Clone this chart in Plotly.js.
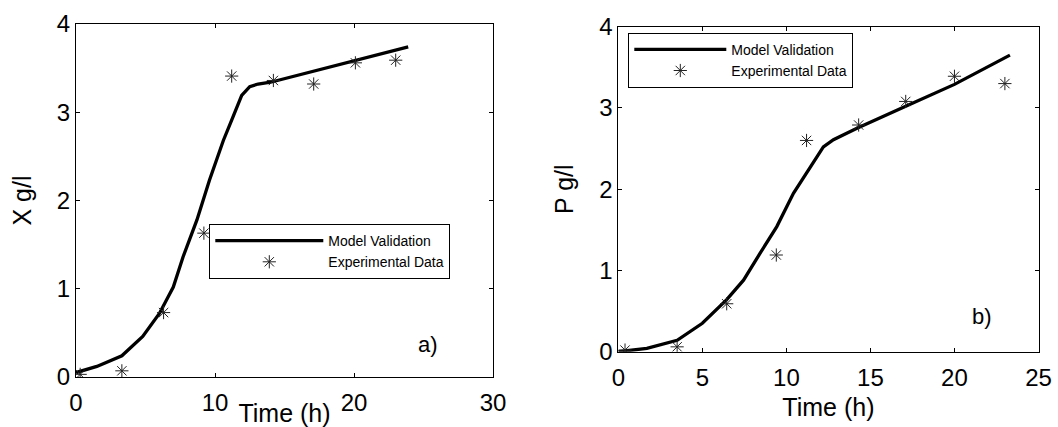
<!DOCTYPE html>
<html><head><meta charset="utf-8">
<script src="https://cdn.plot.ly/plotly-3.0.1.min.js"></script>
<style>html,body{margin:0;padding:0;background:#fff}</style>
</head><body><div id="chart" style="width:1058px;height:427px"></div>
<script>
// Panel a) biomass X (g/l)
const modelTimeX = [0, 1.5, 3.3, 4.8, 6.0, 7.0, 7.7, 8.7, 9.6, 10.6, 11.2, 11.56, 11.92, 12.5, 13.1, 14.0, 16.0, 18.0, 20.0, 22.0, 23.9];
const modelX     = [0.05, 0.12, 0.24, 0.46, 0.72, 1.02, 1.36, 1.78, 2.23, 2.68, 2.91, 3.06, 3.19, 3.29, 3.32, 3.34, 3.42, 3.50, 3.58, 3.66, 3.74];
const expTimeX   = [0.3, 3.3, 6.3, 9.2, 11.2, 14.2, 17.1, 20.1, 23.0];
const expX       = [0.03, 0.07, 0.73, 1.63, 3.41, 3.36, 3.32, 3.56, 3.59];

// Panel b) product P (g/l)
const modelTimeP = [0, 1.7, 3.5, 5.0, 6.45, 7.45, 8.43, 9.43, 10.42, 11.21, 11.81, 12.2, 12.8, 14.2, 17.1, 20.0, 23.3];
const modelP     = [0, 0.04, 0.14, 0.35, 0.64, 0.88, 1.21, 1.54, 1.95, 2.20, 2.40, 2.52, 2.61, 2.75, 3.02, 3.29, 3.65];
const expTimeP   = [0.4, 3.5, 6.45, 9.4, 11.2, 14.3, 17.1, 20.0, 23.0];
const expP       = [0.02, 0.06, 0.59, 1.19, 2.60, 2.79, 3.08, 3.39, 3.30];

const seriesNames = ["Model Validation", "Experimental Data"];
const ticksXa = [0, 10, 20, 30];
const ticksXb = [0, 5, 10, 15, 20, 25];
const ticksY  = [0, 1, 2, 3, 4];

const W = 1058, H = 427;
const FONT = "Liberation Sans, Arial, sans-serif";
const lineStyle = {color: "#000", width: 3.3};
const markerStyle = {symbol: "asterisk-open", size: 11, color: "#222", line: {color: "#222", width: 1}};

const traces = [
  {x: modelTimeX, y: modelX, mode: "lines", name: seriesNames[0], line: lineStyle, xaxis: "x", yaxis: "y", legend: "legend"},
  {x: expTimeX, y: expX, mode: "markers", name: seriesNames[1], marker: markerStyle, xaxis: "x", yaxis: "y", legend: "legend"},
  {x: modelTimeP, y: modelP, mode: "lines", name: seriesNames[0], line: lineStyle, xaxis: "x2", yaxis: "y2", legend: "legend2"},
  {x: expTimeP, y: expP, mode: "markers", name: seriesNames[1], marker: markerStyle, xaxis: "x2", yaxis: "y2", legend: "legend2"}
];

function ax(extra) {
  return Object.assign({
    showline: true, linecolor: "#000", linewidth: 1, mirror: "allticks",
    ticks: "inside", ticklen: 4, tickcolor: "#000", tickwidth: 1,
    showgrid: false, zeroline: false, automargin: false,
    tickfont: {family: FONT, size: 24, color: "#000"}
  }, extra);
}

const legendBase = {
  bgcolor: "#fff", bordercolor: "#000", borderwidth: 1,
  font: {family: FONT, size: 14, color: "#000"},
  xanchor: "left", yanchor: "top", tracegroupgap: 0
};

const layout = {
  width: W, height: H,
  margin: {l: 0, r: 0, t: 0, b: 0},
  paper_bgcolor: "#fff", plot_bgcolor: "#fff",
  showlegend: true,
  xaxis: ax({domain: [76 / W, 493 / W], range: [0, 30], tickvals: ticksXa, anchor: "y", ticklabelstandoff: 4,
    title: {text: "Time (h)", font: {family: FONT, size: 25, color: "#000"}, standoff: 3}}),
  yaxis: ax({domain: [1 - 377 / H, 1 - 24 / H], range: [0, 4], tickvals: ticksY, anchor: "x",
    title: {text: "X g/l", font: {family: FONT, size: 25, color: "#000"}, standoff: 18}}),
  xaxis2: ax({domain: [618.3 / W, 1038.5 / W], range: [0, 25], tickvals: ticksXb, anchor: "y2", ticklabelstandoff: 4,
    title: {text: "Time (h)", font: {family: FONT, size: 25, color: "#000"}, standoff: 8}}),
  yaxis2: ax({domain: [1 - 351.7 / H, 1 - 26.7 / H], range: [0, 4], tickvals: ticksY, anchor: "x2",
    title: {text: "P g/l", font: {family: FONT, size: 25, color: "#000"}, standoff: 18}}),
  legend: Object.assign({}, legendBase, {x: 209.3 / W, y: 1 - 224 / H, itemwidth: 108}),
  legend2: Object.assign({}, legendBase, {x: 628.3 / W, y: 1 - 32.7 / H, itemwidth: 92}),
  annotations: [
    {text: "a)", xref: "x", yref: "y", x: 25.3, y: 0.37, showarrow: false,
     font: {family: FONT, size: 22, color: "#000"}},
    {text: "b)", xref: "x2", yref: "y2", x: 21.65, y: 0.43, showarrow: false,
     font: {family: FONT, size: 22, color: "#000"}}
  ]
};

Plotly.newPlot("chart", traces, layout, {staticPlot: true, displayModeBar: false});
</script>
</body></html>
